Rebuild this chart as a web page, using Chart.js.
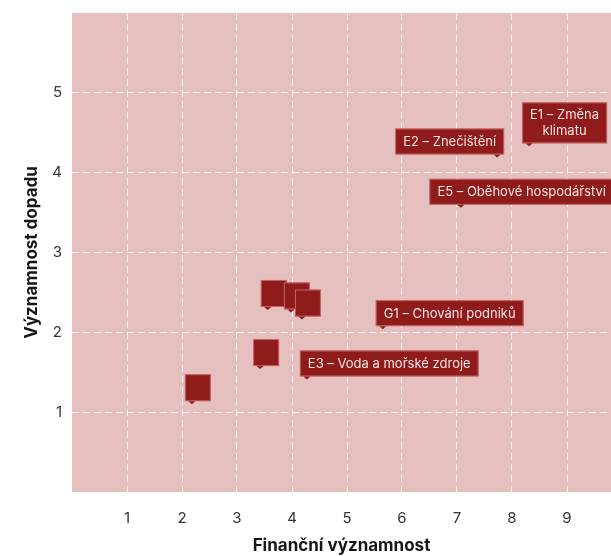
<!DOCTYPE html>
<html>
<head>
<meta charset="utf-8">
<script src="https://cdn.jsdelivr.net/npm/chart.js@4"></script>
<style>
  html, body { margin: 0; padding: 0; background: #fff; }
  #wrap { width: 611px; height: 556px; }
</style>
</head>
<body>
<div id="wrap"><canvas id="matrix"></canvas></div>
<script>
// topics (empty name = unlabelled point)
var topics = ['E1 – Změna\nklimatu', 'E2 – Znečištění', 'E3 – Voda a mořské zdroje',
  'E5 – Oběhové hospodářství', 'G1 – Chování podniků', '', '', '', '', ''];
var financial = [8.31, 7.73, 4.27, 7.07, 5.65, 2.18, 3.42, 3.56, 3.98, 4.18];
var impact = [4.33, 4.19, 1.41, 3.56, 2.04, 1.10, 1.54, 2.28, 2.25, 2.16];
var xTicks = [1, 2, 3, 4, 5, 6, 7, 8, 9];
var yTicks = [1, 2, 3, 4, 5];

var FONT = 'Inter, "Open Sans", sans-serif';
var boxColor = '#8f1b1b';

// pointer on the right side of the box for this one, so it doesn't run into E1
var alignRight = { 'E2 – Znečištění': true };

var points = financial.map(function (v, i) { return { x: v, y: impact[i] }; });

// pink plot background
var bgPlugin = {
  id: 'plotBg',
  beforeDraw: function (chart) {
    var a = chart.chartArea, ctx = chart.ctx;
    ctx.save();
    ctx.fillStyle = '#e6bfbf';
    ctx.fillRect(a.left, a.top, a.right - a.left, a.bottom - a.top);
    ctx.restore();
  }
};

// callout boxes with a small pointer at the data point
var calloutPlugin = {
  id: 'callouts',
  afterDatasetsDraw: function (chart) {
    var ctx = chart.ctx;
    var meta = chart.getDatasetMeta(0);
    ctx.save();
    ctx.font = '13px ' + FONT;
    meta.data.forEach(function (pt, i) {
      var lines = topics[i] ? topics[i].split('\n') : [];
      var tw = 0;
      lines.forEach(function (l) { tw = Math.max(tw, ctx.measureText(l).width); });
      var w = Math.max(26, tw + 16);
      var h = lines.length > 1 ? 41 : 26;
      if (!lines.length) h = 27;
      var px = pt.x, py = pt.y;
      var left = alignRight[topics[i]] ? px + 7 - w : px - 7;
      if (left + w > chart.width + 3) left = chart.width + 3 - w;
      var bottom = py - 3;
      var top = bottom - h;

      ctx.fillStyle = boxColor;
      ctx.fillRect(left, top, w, h);
      ctx.strokeStyle = 'rgba(230,150,150,0.6)';
      ctx.lineWidth = 1;
      ctx.strokeRect(left + 0.5, top + 0.5, w - 1, h - 1);
      // pointer
      ctx.beginPath();
      ctx.moveTo(px - 3.5, bottom);
      ctx.lineTo(px + 3.5, bottom);
      ctx.lineTo(px, py);
      ctx.closePath();
      ctx.fillStyle = boxColor;
      ctx.fill();

      ctx.fillStyle = '#f5e4e4';
      ctx.textBaseline = 'middle';
      ctx.textAlign = 'center';
      var lh = 16;
      var y0 = top + h / 2 - (lines.length - 1) * lh / 2;
      lines.forEach(function (l, k) {
        ctx.fillText(l, left + w / 2, y0 + k * lh + 0.5);
      });
    });
    ctx.restore();
  }
};

var gridStyle = {
  color: 'rgba(255,255,255,0.8)',
  lineWidth: 1,
  drawTicks: false
};

new Chart(document.getElementById('matrix'), {
  type: 'scatter',
  data: {
    datasets: [{
      data: points,
      pointRadius: 0,
      pointHoverRadius: 0
    }]
  },
  options: {
    responsive: true,
    maintainAspectRatio: false,
    animation: false,
    events: [],
    layout: { padding: { top: 13, right: 0, left: 0, bottom: 0 } },
    plugins: {
      legend: { display: false },
      tooltip: { enabled: false }
    },
    scales: {
      x: {
        type: 'linear',
        min: 0,
        max: 9.8,
        afterBuildTicks: function (axis) { axis.ticks = xTicks.map(function (v) { return { value: v }; }); },
        afterFit: function (axis) { axis.height = 64; axis.paddingLeft = 0; axis.paddingRight = 0; },
        border: { display: false, dash: [7, 4] },
        grid: gridStyle,
        ticks: { color: '#333', padding: 17, font: { family: FONT, size: 15 } },
        title: {
          display: true,
          text: 'Finanční významnost',
          color: '#161616',
          padding: { top: 5, bottom: 0 },
          font: { family: FONT, size: 17, weight: 'bold' }
        }
      },
      y: {
        type: 'linear',
        min: 0,
        max: 6,
        afterBuildTicks: function (axis) { axis.ticks = yTicks.map(function (v) { return { value: v }; }); },
        afterFit: function (axis) { axis.width = 72; axis.paddingTop = 0; axis.paddingBottom = 0; },
        border: { display: false, dash: [7, 4] },
        grid: gridStyle,
        ticks: { color: '#333', padding: 10, font: { family: FONT, size: 15 } },
        title: {
          display: true,
          text: 'Významnost dopadu',
          color: '#161616',
          padding: { top: 22, bottom: 0 },
          font: { family: FONT, size: 17, weight: 'bold' }
        }
      }
    }
  },
  plugins: [bgPlugin, calloutPlugin]
});
</script>
</body>
</html>
